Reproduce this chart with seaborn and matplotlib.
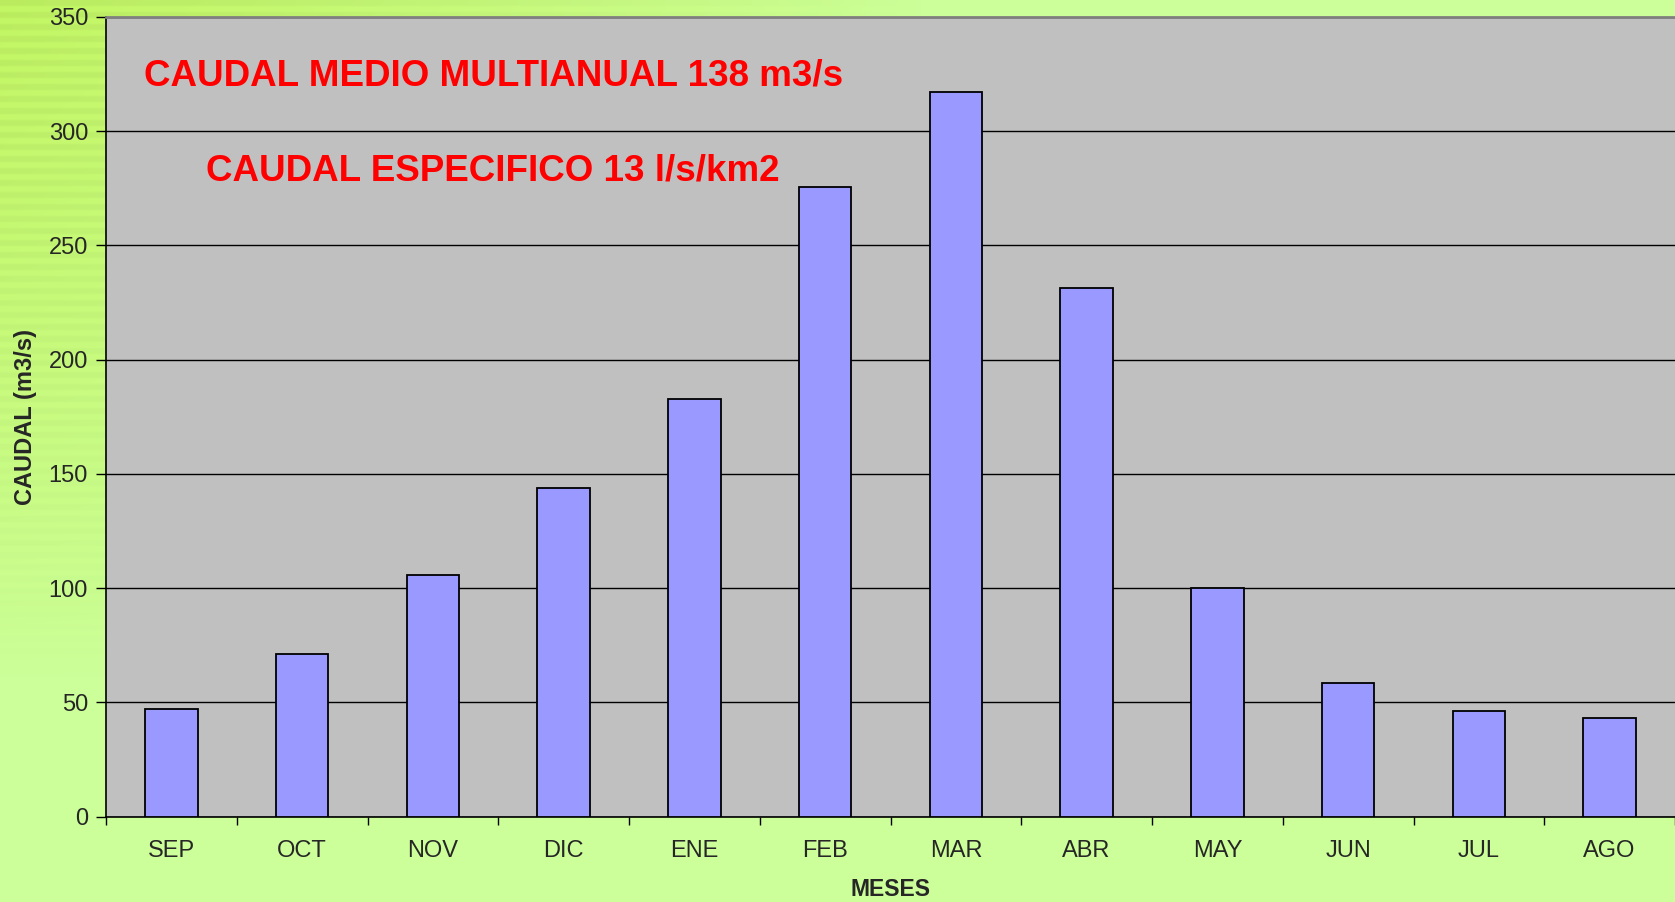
import numpy as np
import pandas as pd
import matplotlib
matplotlib.use('Agg')
import matplotlib.pyplot as plt
import seaborn as sns

# Monthly mean discharge (m3/s), hydrological year Sep-Aug
meses = ['SEP', 'OCT', 'NOV', 'DIC', 'ENE', 'FEB', 'MAR', 'ABR', 'MAY', 'JUN', 'JUL', 'AGO']
caudal = [47.3, 71.1, 105.8, 143.7, 183.0, 275.6, 317.3, 231.2, 100.1, 58.5, 46.1, 43.1]
yticks = [0, 50, 100, 150, 200, 250, 300, 350]

df = pd.DataFrame({'MESES': meses, 'CAUDAL': caudal})

sns.set_style('white')
plt.rcParams['font.family'] = ['Liberation Sans', 'DejaVu Sans']

fig = plt.figure(figsize=(16.75, 9.02), dpi=100, facecolor='#CCFF99')

# soft green gradient in the top-left corner of the background
bg = fig.add_axes([0, 0, 1, 1], zorder=-10)
h, w = 451, 838
yy, xx = np.mgrid[0:h, 0:w]
fx = np.clip(1 - xx / (w * 0.55), 0, 1)
fy = np.clip(1 - yy / (h * 0.75), 0, 1)
alpha = (fx * fy) ** 0.8 * 0.85
stripes = 1 + 0.06 * ((yy // 3) % 2)
rgba = np.zeros((h, w, 4))
rgba[..., 0] = np.clip(0.72 * stripes, 0, 1)
rgba[..., 1] = np.clip(0.91 * stripes, 0, 1)
rgba[..., 2] = np.clip(0.33 * stripes, 0, 1)
rgba[..., 3] = alpha
bg.imshow(rgba, aspect='auto', interpolation='bilinear')
bg.axis('off')

ax = fig.add_axes([0.0633, 0.0946, 0.9367, 0.8866])
ax.set_facecolor('#C0C0C0')

sns.barplot(data=df, x='MESES', y='CAUDAL', color='#9999FF', saturation=1,
            edgecolor='black', linewidth=1.3, width=0.4, ax=ax, zorder=3)

ax.set_xlim(-0.5, len(meses) - 0.5)
ax.set_ylim(0, 350)
ax.set_yticks(yticks)
ax.yaxis.grid(True, color='black', linewidth=1.0, zorder=1)
ax.set_axisbelow(True)

# ticks between categories, labels centred
ax.set_xticks(np.arange(-0.5, len(meses), 1), minor=True)
ax.tick_params(axis='x', which='major', length=0, pad=17, labelsize=17)
ax.tick_params(axis='x', which='minor', length=6, width=1, color='black', direction='out')
ax.tick_params(axis='y', length=7, width=1, color='black', direction='out', pad=6, labelsize=17)
ax.tick_params(axis='both', which='both', bottom=True, left=True)

ax.spines['right'].set_visible(False)
ax.spines['top'].set_color('#808080')
ax.spines['top'].set_linewidth(2)
for s in ['left', 'bottom']:
    ax.spines[s].set_color('black')
    ax.spines[s].set_linewidth(1.2)

ax.set_xlabel('MESES', fontsize=16.5, fontweight='bold', labelpad=11)
ax.set_ylabel('CAUDAL (m3/s)', fontsize=17, fontweight='bold', labelpad=8)

ax.text(0.0242, 0.926, 'CAUDAL MEDIO MULTIANUAL 138 m3/s', transform=ax.transAxes,
        color='#FF0000', fontsize=26.5, fontweight='bold', va='center', ha='left')
ax.text(0.0637, 0.807, 'CAUDAL ESPECIFICO 13 l/s/km2', transform=ax.transAxes,
        color='#FF0000', fontsize=26.5, fontweight='bold', va='center', ha='left')

fig.savefig('out.png', dpi=100, facecolor=fig.get_facecolor())
